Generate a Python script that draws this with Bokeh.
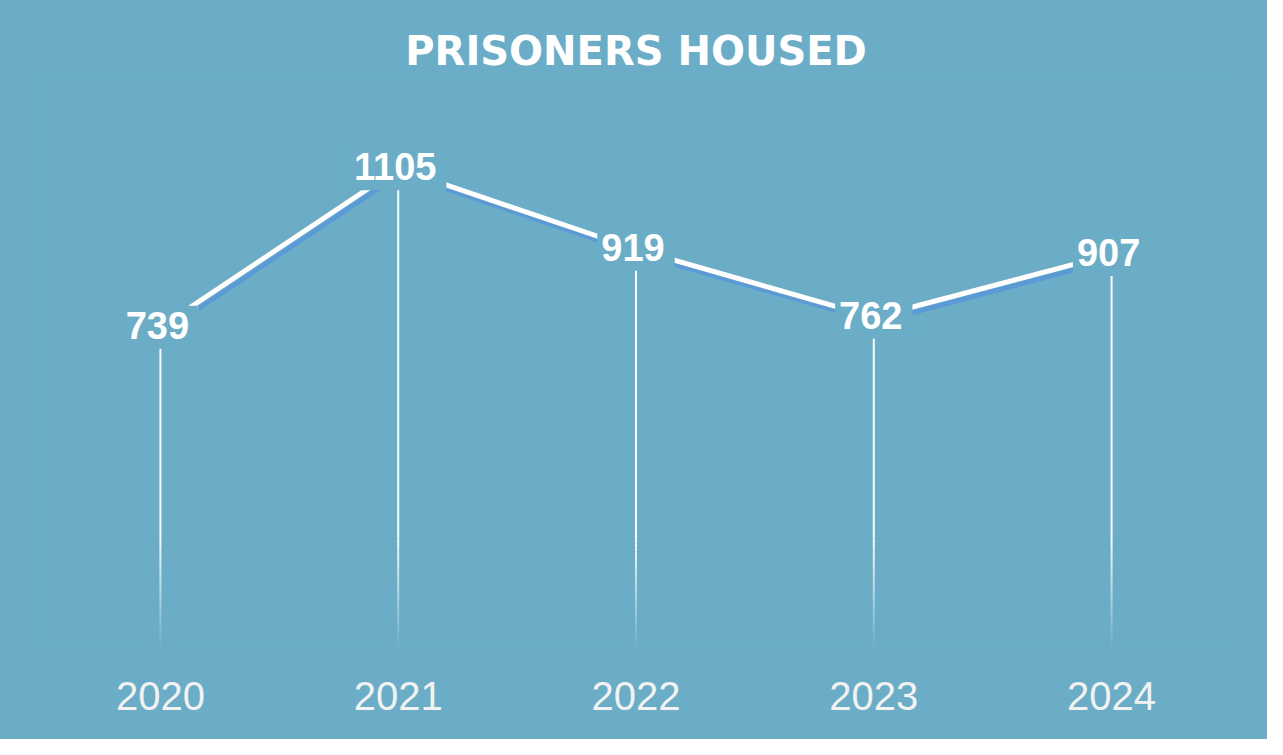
from bokeh.plotting import figure
from bokeh.models import Range1d, ColumnDataSource
from bokeh.transform import dodge
from bokeh.core.properties import value
from bokeh.embed import file_html
from bokeh.resources import INLINE

# ---- data ----
years = ["2020", "2021", "2022", "2023", "2024"]
prisoners = [739, 1105, 919, 762, 907]
title_text = "PRISONERS HOUSED"

BG = "#6BADC6"
FONT = "Liberation Sans"
Y_END = 1313

src = ColumnDataSource(dict(x=years, y=prisoners, lbl=[str(v) for v in prisoners]))

p = figure(width=1267, height=739, x_range=years, y_range=Range1d(0, Y_END),
           output_backend="svg", toolbar_location=None,
           min_border_left=41, min_border_right=37, min_border_top=78, min_border_bottom=92,
           background_fill_color=BG, border_fill_color=BG, outline_line_color=None)
p.styles = {"background-color": BG}
p.extra_y_ranges = {"shadow": Range1d(11, Y_END + 11)}

# drop lines (solid upper part + fading lower part)
fade_top = 250
n = 26
x0s, y0s, y1s, alphas = [], [], [], []
for yr, v in zip(years, prisoners):
    x0s.append(yr); y0s.append(v); y1s.append(fade_top); alphas.append(0.95)
    for i in range(n):
        a = fade_top * (1 - i / n)
        b = fade_top * (1 - (i + 1) / n)
        x0s.append(yr); y0s.append(a); y1s.append(b)
        alphas.append(0.93 * (1 - (i + 0.5) / n) + 0.03)
drop = ColumnDataSource(dict(x=x0s, y0=y0s, y1=y1s, a=alphas))
p.segment(x0="x", y0="y0", x1="x", y1="y1", source=drop, line_color="white",
          line_alpha="a", line_width=2)

# shadow line
p.line(x=dodge("x", 0.012, range=p.x_range), y="y", source=src, y_range_name="shadow",
       line_color="#5B9BD5", line_width=5)
# main line
p.line(x="x", y="y", source=src, line_color="white", line_width=5)

# data labels
p.text(x="x", y="y", text="lbl", source=src, text_font=value(FONT), text_font_size="38px",
       text_font_style="bold", text_color="white", text_align="center", text_baseline="middle",
       background_fill_color=BG, padding=(4, 10, 6, 10))

# title
p.title.text = title_text
p.title.align = "center"
p.title.text_font = "DejaVu Sans"
p.title.text_font_size = "40px"
p.title.text_font_style = "bold"
p.title.text_color = "white"

# axes
p.yaxis.visible = False
p.xaxis.axis_line_color = None
p.xaxis.major_tick_line_color = None
p.xaxis.minor_tick_line_color = None
p.xaxis.major_label_text_font = FONT
p.xaxis.major_label_text_font_size = "40px"
p.xaxis.major_label_text_color = "#F2F2F2"
p.xaxis.major_label_standoff = 28
p.grid.visible = False

open("out.html", "w").write(file_html(p, INLINE))
